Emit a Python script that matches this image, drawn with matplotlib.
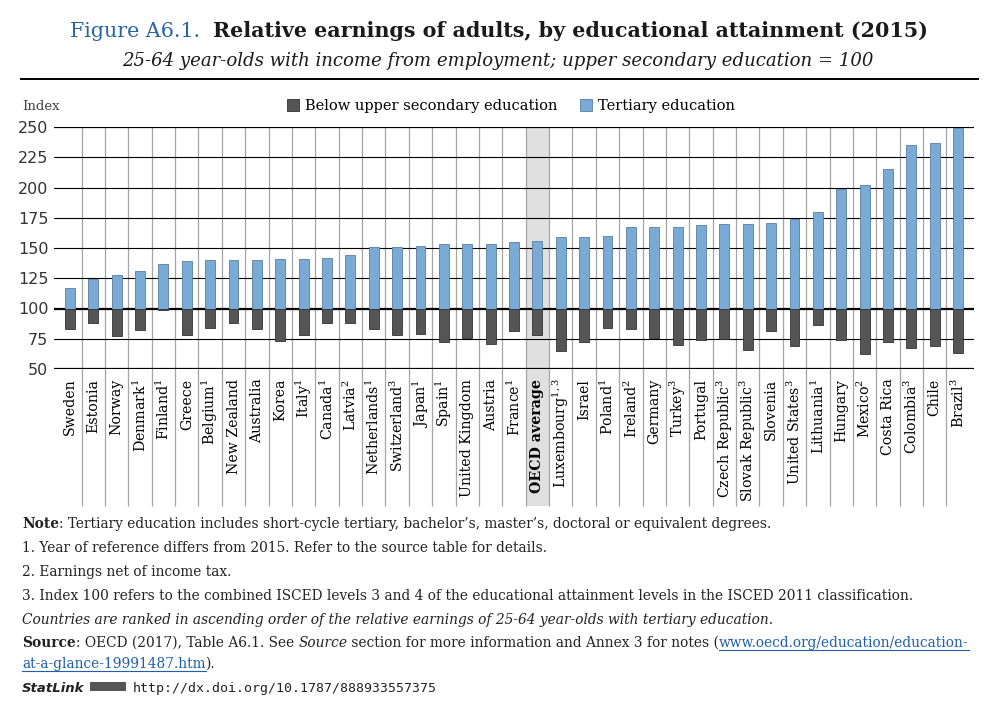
#!/usr/bin/env python3
"""Relative earnings of adults by educational attainment (OECD EAG 2017, Fig. A6.1)."""

import matplotlib
matplotlib.use("Agg")
import matplotlib.pyplot as plt
from matplotlib.lines import Line2D
from matplotlib.patches import Patch, Rectangle

W, H, DPI = 1000, 703, 100

BLUE = "#7aaad6"
BLUE_EDGE = "#5b7f9e"
DARK = "#555555"
DARK_EDGE = "#333333"
SEP = "#a6a6a6"
LINK = "#1f5ea8"
SERIF = "DejaVu Serif"

plt.rcParams.update({
    "font.family": SERIF,
    "mathtext.fontset": "dejavuserif",
})

countries = [
    "Sweden", "Estonia", "Norway", "Denmark$^1$", "Finland$^1$", "Greece",
    "Belgium$^1$", "New Zealand", "Australia", "Korea", "Italy$^1$",
    "Canada$^1$", "Latvia$^2$", "Netherlands$^1$", "Switzerland$^3$",
    "Japan$^1$", "Spain$^1$", "United Kingdom", "Austria", "France$^1$",
    "OECD average", "Luxembourg$^{1,3}$", "Israel", "Poland$^1$",
    "Ireland$^2$", "Germany", "Turkey$^3$", "Portugal", "Czech Republic$^3$",
    "Slovak Republic$^3$", "Slovenia", "United States$^3$", "Lithuania$^1$",
    "Hungary", "Mexico$^2$", "Costa Rica", "Colombia$^3$", "Chile", "Brazil$^3$",
]
tertiary = [117, 124, 128, 131, 137, 139, 140, 140, 140, 141, 141, 142, 144,
            151, 151, 152, 153, 153, 153, 155, 156, 159, 159, 160, 167, 167,
            167, 169, 170, 170, 171, 174, 180, 199, 202, 215, 235, 237, 249]
below_upper = [83, 88, 77, 82, 99, 78, 84, 88, 83, 73, 78, 88, 88, 83, 78,
               79, 72, 76, 71, 81, 78, 65, 72, 84, 83, 76, 70, 74, 75, 66,
               81, 69, 86, 74, 62, 72, 67, 69, 63]
yticks = [50, 75, 100, 125, 150, 175, 200, 225, 250]
highlight = "OECD average"

fig = plt.figure(figsize=(W / DPI, H / DPI), dpi=DPI, facecolor="white")
ax = fig.add_axes([54 / W, 1 - 369 / H, 920 / W, 242 / H])

n = len(countries)
x = list(range(n))
base = 100
ax.bar(x, [t - base for t in tertiary], bottom=base, width=0.42,
       color=BLUE, edgecolor=BLUE_EDGE, linewidth=0.6, zorder=3)
ax.bar(x, [b - base for b in below_upper], bottom=base, width=0.42,
       color=DARK, edgecolor=DARK_EDGE, linewidth=0.6, zorder=3)

ax.set_xlim(-0.68, n - 1 + 0.68)
ax.set_ylim(50, 250)

# horizontal grid, heavier at the frame and at the 100 baseline
for v in yticks:
    heavy = v in (50, 100, 250)
    ax.axhline(v, color="black", lw=1.6 if heavy else 0.8, zorder=2)

# category separators running down through the label area
label_bottom = -0.566
ax.vlines([i + 0.5 for i in range(n - 1)], label_bottom, 1,
          transform=ax.get_xaxis_transform(), color=SEP, lw=0.9,
          clip_on=False, zorder=1)

# shaded OECD average column
hi = countries.index(highlight)
band = Rectangle((hi - 0.5, label_bottom), 1, 1 - label_bottom,
                 transform=ax.get_xaxis_transform(), facecolor="#e0e0e0",
                 edgecolor="none", clip_on=False, zorder=0)
ax.add_patch(band)

ax.set_yticks(yticks)
ax.set_yticklabels([str(v) for v in yticks], family="DejaVu Sans",
                   fontsize=11.5, color="#333333")
ax.set_xticks(x)
ax.set_xticklabels(countries, rotation=90, fontsize=10.2, va="top", ha="center")
ax.get_xticklabels()[hi].set_fontweight("bold")
ax.tick_params(axis="both", length=0)
ax.tick_params(axis="y", pad=4)
ax.tick_params(axis="x", pad=7)
for s in ax.spines.values():
    s.set_visible(False)
ax.set_facecolor("none")

# legend + index label
handles = [
    Patch(facecolor=DARK, edgecolor=DARK_EDGE, linewidth=0.6,
          label="Below upper secondary education"),
    Patch(facecolor=BLUE, edgecolor=BLUE_EDGE, linewidth=0.6,
          label="Tertiary education"),
]
fig.legend(handles=handles, loc="center", bbox_to_anchor=(0.511, 1 - 106 / H),
           ncol=2, frameon=False, fontsize=10.5, handlelength=0.8,
           handleheight=0.8, handletextpad=0.4, columnspacing=1.6)
fig.text(22 / W, 1 - 106 / H, "Index", fontsize=9.5, color="#444444",
         va="center", ha="left")

renderer = fig.canvas.get_renderer()


def run_width(txt, kw):
    a = fig.text(0, 0, txt + "|", **kw)
    b = fig.text(0, 0, "|", **kw)
    w = a.get_window_extent(renderer).width - b.get_window_extent(renderer).width
    a.remove()
    b.remove()
    return w


def put_runs(y_px, runs, x_px=22.0, center=False):
    widths = [run_width(t, kw) for t, kw, _ in runs]
    if center:
        x_px = x_px - sum(widths) / 2
    for (txt, kw, underline), w in zip(runs, widths):
        fig.text(x_px / W, 1 - y_px / H, txt, ha="left", va="baseline", **kw)
        if underline:
            fig.add_artist(Line2D([x_px / W, (x_px + w) / W],
                                  [1 - (y_px + 2.5) / H] * 2, color=kw.get("color"),
                                  lw=0.8, transform=fig.transFigure))
        x_px += w


# title block
put_runs(37, [
    ("Figure A6.1.  ", dict(fontsize=14.9, color="#2a64a8"), False),
    ("Relative earnings of adults, by educational attainment (2015)",
     dict(fontsize=14.9, fontweight="bold", color="#1a1a1a"), False),
], x_px=499, center=True)
put_runs(66, [
    ("25-64 year-olds with income from employment; upper secondary education = 100",
     dict(fontsize=13.1, style="italic", color="#1a1a1a"), False),
], x_px=498, center=True)
fig.add_artist(Line2D([21 / W, 978 / W], [1 - 79 / H] * 2, color="black",
                      lw=1.4, transform=fig.transFigure))

# notes
NOTE = dict(fontsize=9.9, color="#222222")
NOTE_B = dict(NOTE, fontweight="bold")
NOTE_I = dict(NOTE, style="italic")
NOTE_L = dict(NOTE, color=LINK)
put_runs(528, [("Note", NOTE_B, False),
               (": Tertiary education includes short-cycle tertiary, bachelor\u2019s, "
                "master\u2019s, doctoral or equivalent degrees.", NOTE, False)])
put_runs(552, [("1. Year of reference differs from 2015. Refer to the source table for details.",
                NOTE, False)])
put_runs(576, [("2. Earnings net of income tax.", NOTE, False)])
put_runs(600, [("3. Index 100 refers to the combined ISCED levels 3 and 4 of the educational "
                "attainment levels in the ISCED 2011 classification.", NOTE, False)])
put_runs(624, [("Countries are ranked in ascending order of the relative earnings of "
                "25-64 year-olds with tertiary education.", NOTE_I, False)])
put_runs(647, [("Source", NOTE_B, False),
               (": OECD (2017), Table A6.1. See ", NOTE, False),
               ("Source", NOTE_I, False),
               (" section for more information and Annex 3 for notes (", NOTE, False),
               ("www.oecd.org/education/education-", NOTE_L, True)])
put_runs(668, [("at-a-glance-19991487.htm", NOTE_L, True), (").", NOTE, False)])

put_runs(692, [("StatLink", dict(fontsize=9.5, family="DejaVu Sans", fontweight="bold",
                                 style="italic", color="#222222"), False)])
fig.add_artist(Rectangle((90 / W, 1 - 691 / H), 36 / W, 9 / H, facecolor="#555555",
                         edgecolor="none", transform=fig.transFigure))
put_runs(692, [("http://dx.doi.org/10.1787/888933557375",
                dict(fontsize=9.5, family="DejaVu Sans Mono", color="#222222"), False)],
         x_px=133)

fig.savefig("out.png", dpi=DPI, facecolor="white")
